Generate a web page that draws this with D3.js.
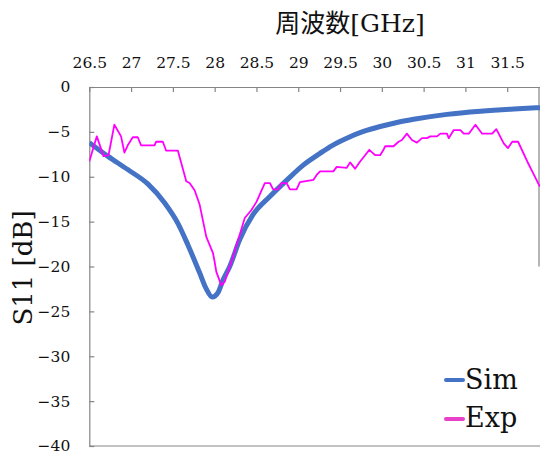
<!DOCTYPE html>
<html>
<head>
<meta charset="utf-8">
<script src="https://cdn.jsdelivr.net/npm/d3@7"></script>
<style>
  html, body { margin: 0; padding: 0; background: #fff; }
  svg { display: block; }
</style>
</head>
<body>
<svg id="chart" width="540" height="456"></svg>
<script>
// ---- data ----
const xTicks = [26.5, 27, 27.5, 28, 28.5, 29, 29.5, 30, 30.5, 31, 31.5, 32];
const yTicks = [0, -5, -10, -15, -20, -25, -30, -35, -40];
const xTitle = "周波数[GHz]";
const yTitle = "S11 [dB]";
const seriesNames = ["Sim", "Exp"];

const simFreq = [26.50, 26.72, 26.96, 27.20, 27.40, 27.56, 27.68, 27.82, 27.90, 27.97, 28.04, 28.10, 28.18, 28.30, 28.46, 28.66, 28.86, 29.06, 29.26, 29.40, 29.58, 29.78, 29.98, 30.18, 30.38, 30.78, 31.18, 31.58, 31.90];
const simDb   = [-6.2, -7.7, -9.2, -10.8, -12.9, -15.2, -17.6, -20.7, -22.5, -23.4, -22.9, -21.5, -20.0, -17.0, -14.2, -12.2, -10.4, -8.7, -7.4, -6.55, -5.7, -4.95, -4.4, -3.95, -3.6, -3.05, -2.7, -2.45, -2.3];

const expFreq = [26.50, 26.59, 26.67, 26.73, 26.80, 26.88, 26.92, 26.96, 27.02, 27.08, 27.12, 27.28, 27.30, 27.38, 27.42, 27.56, 27.66, 27.70, 27.76, 27.82, 27.90, 27.98, 28.00, 28.02, 28.08, 28.12, 28.22, 28.36, 28.44, 28.50, 28.60, 28.66, 28.70, 28.76, 28.80, 28.86, 28.90, 28.98, 29.02, 29.18, 29.22, 29.26, 29.42, 29.46, 29.58, 29.62, 29.68, 29.74, 29.80, 29.85, 29.92, 29.98, 30.02, 30.04, 30.14, 30.20, 30.24, 30.30, 30.36, 30.42, 30.48, 30.54, 30.58, 30.66, 30.70, 30.78, 30.80, 30.86, 30.94, 30.98, 31.04, 31.12, 31.20, 31.32, 31.37, 31.46, 31.51, 31.56, 31.63, 31.74, 31.81, 31.89];
const expDb   = [-8.3, -5.5, -7.7, -7.6, -4.2, -5.5, -7.3, -6.5, -5.6, -5.6, -6.5, -6.5, -6.1, -6.1, -7.1, -7.1, -10.5, -10.7, -11.5, -13.1, -16.7, -18.5, -19.5, -20.6, -22.1, -21.7, -18.9, -14.6, -13.7, -12.8, -10.7, -10.7, -11.4, -11.4, -10.7, -10.7, -11.4, -11.4, -10.6, -10.35, -9.8, -9.4, -9.4, -8.9, -9.0, -8.4, -9.1, -8.3, -7.6, -7.0, -7.6, -7.6, -7.0, -6.6, -6.6, -6.1, -5.9, -5.2, -5.9, -6.2, -5.7, -5.7, -5.5, -5.5, -5.2, -5.2, -5.7, -4.8, -4.8, -5.2, -5.2, -4.2, -5.2, -5.2, -4.7, -6.3, -6.8, -6.1, -6.1, -8.3, -9.6, -11.1];

// ---- layout ----
const svg = d3.select("#chart");
const mLeft = 89.3, mTop = 87, mBottom = 446, rightEdge = 539;
const x = d3.scaleLinear().domain([26.5, 32]).range([mLeft, 549]);
const y = d3.scaleLinear().domain([0, -40]).range([mTop, mBottom]);
const axisColor = "#858585";
const serif = "\"DejaVu Serif\", \"Noto Sans CJK JP\", serif";

// top axis with inward ticks
const xAxis = d3.axisTop(x).tickValues(xTicks).tickFormat(d3.format("")).tickSizeInner(-5).tickSizeOuter(0).tickPadding(19);
const gx = svg.append("g").attr("transform", `translate(0,${mTop})`).call(xAxis);
gx.select(".domain").attr("stroke", axisColor).attr("stroke-width", 1.2);
gx.selectAll(".tick line").attr("stroke", axisColor).attr("stroke-width", 1.2);
gx.selectAll(".tick text").style("font-family", serif).style("font-size", "15.5px").attr("fill", "#111");

// left axis with inward ticks
const yAxis = d3.axisLeft(y).tickValues(yTicks).tickFormat(d3.format("")).tickSizeInner(-5).tickSizeOuter(0).tickPadding(19);
const gy = svg.append("g").attr("transform", `translate(${mLeft},0)`).call(yAxis);
gy.select(".domain").attr("stroke", axisColor).attr("stroke-width", 1.2);
gy.selectAll(".tick line").attr("stroke", axisColor).attr("stroke-width", 1.2);
gy.selectAll(".tick text").style("font-family", serif).style("font-size", "15.5px").attr("fill", "#111");

// bottom border and partial right border
svg.append("line").attr("x1", mLeft).attr("x2", 540).attr("y1", y(-40)).attr("y2", y(-40))
  .attr("stroke", axisColor).attr("stroke-width", 1.2);
svg.append("line").attr("x1", rightEdge).attr("x2", rightEdge).attr("y1", y(0)).attr("y2", y(-20))
  .attr("stroke", axisColor).attr("stroke-width", 1.2);

// titles
svg.append("text").attr("x", 350).attr("y", 32).attr("text-anchor", "middle")
  .style("font-family", serif).style("font-size", "25px").attr("fill", "#111").text(xTitle);
svg.append("text").attr("transform", "translate(32,268) rotate(-90)").attr("text-anchor", "middle")
  .style("font-family", serif).style("font-size", "26px").attr("fill", "#111").text(yTitle);

// series
svg.append("defs").append("clipPath").attr("id", "clip")
  .append("rect").attr("x", mLeft).attr("y", mTop - 10).attr("width", rightEdge - mLeft + 1).attr("height", mBottom - mTop + 20);

const simData = simFreq.map((f, i) => [f, simDb[i]]);
const expData = expFreq.map((f, i) => [f, expDb[i]]);

const plot = svg.append("g").attr("clip-path", "url(#clip)");
plot.append("path").datum(simData)
  .attr("d", d3.line().x(d => x(d[0])).y(d => y(d[1])).curve(d3.curveMonotoneX))
  .attr("fill", "none").attr("stroke", "#4472c4").attr("stroke-width", 5).attr("stroke-linejoin", "round");
plot.append("path").datum(expData)
  .attr("d", d3.line().x(d => x(d[0])).y(d => y(d[1])))
  .attr("fill", "none").attr("stroke", "#ff00ff").attr("stroke-width", 1.8).attr("stroke-linejoin", "round");

// legend
const legend = svg.append("g");
const legendItems = [
  { name: seriesNames[0], color: "#4472c4", lineY: 380, textY: 389 },
  { name: seriesNames[1], color: "#e840c8", lineY: 419, textY: 427 }
];
legendItems.forEach(it => {
  legend.append("line").attr("x1", 446).attr("x2", 463).attr("y1", it.lineY).attr("y2", it.lineY)
    .attr("stroke", it.color).attr("stroke-width", 4).attr("stroke-linecap", "round");
  legend.append("text").attr("x", 465).attr("y", it.textY)
    .style("font-family", serif).style("font-size", "27px").attr("fill", "#111").text(it.name);
});
</script>
</body>
</html>
